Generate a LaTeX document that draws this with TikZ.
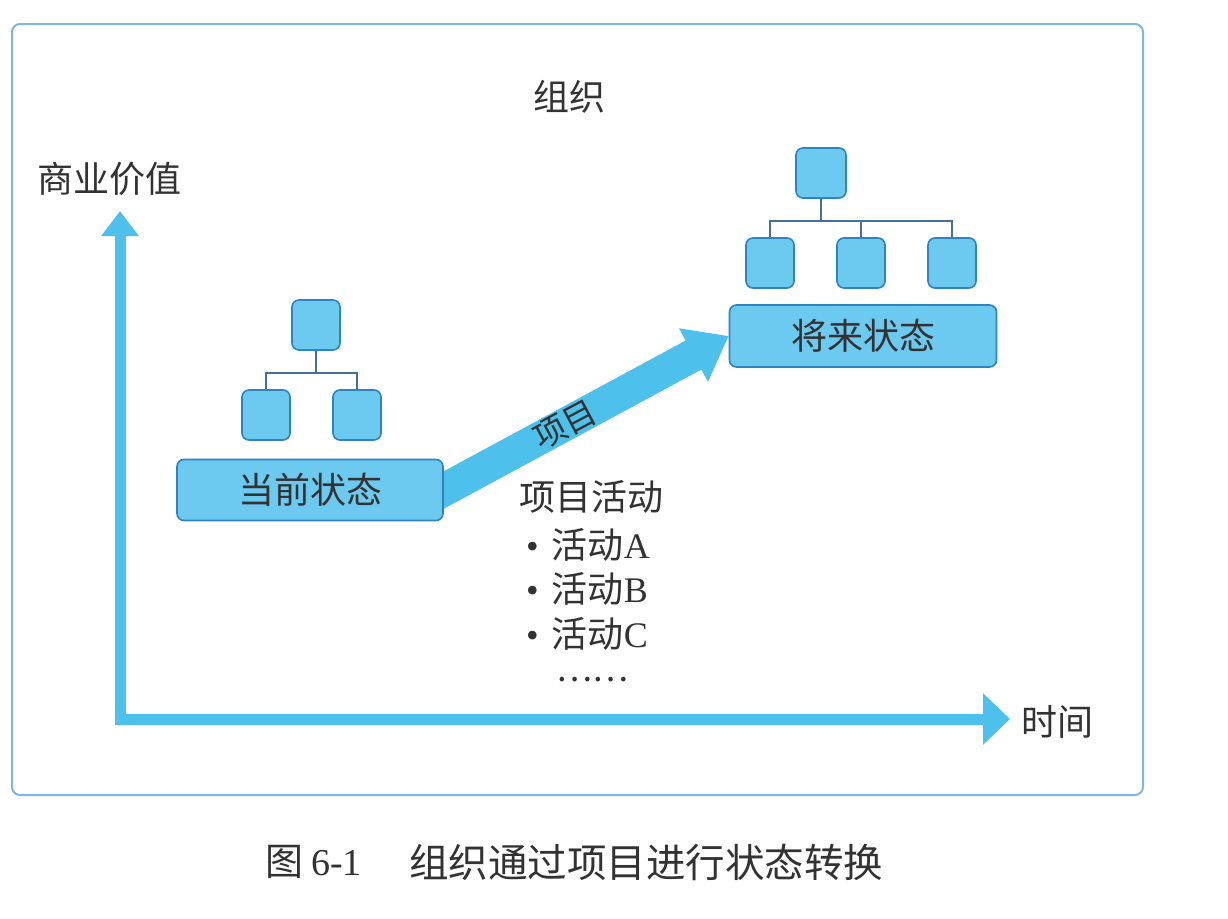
\documentclass[tikz,border=0pt]{standalone}
\usepackage{fontspec}
\setmainfont{Liberation Serif}
\newfontfamily\cjk{Noto Sans CJK SC}
\usetikzlibrary{arrows.meta}
\definecolor{boxfill}{RGB}{108,202,240}
\definecolor{boxline}{RGB}{45,132,192}
\definecolor{arrowc}{RGB}{78,192,236}
\definecolor{framec}{RGB}{125,182,226}
\definecolor{orgc}{RGB}{72,112,150}
\definecolor{txt}{RGB}{50,50,50}
\newcommand{\fsz}[1]{\fontsize{#1}{#1}\selectfont}
\pgfdeclarelayer{bg}
\pgfsetlayers{bg,main}
\tikzset{
  statebox/.style={draw=boxline, fill=boxfill, line width=1.6pt, rounded corners=7pt,
    inner sep=0pt, minimum width=266pt, minimum height=61pt, text=txt, font=\cjk\fsz{36}},
  orgbox/.style={draw=boxline, fill=boxfill, line width=1.6pt, rounded corners=7pt,
    inner sep=0pt, minimum width=48pt, minimum height=50pt},
  orgline/.style={draw=orgc, line width=1.8pt},
  axisline/.style={draw=arrowc, line width=11pt, line cap=rect},
  bigarrow/.style={draw=arrowc, line width=33pt, -{Triangle[width=58pt,length=40pt]}, shorten <=-25pt},
  lbl/.style={inner sep=0pt, text=txt, font=\cjk\fsz{36}},
}
\begin{document}
\begin{tikzpicture}[x=1pt,y=-1pt]
\useasboundingbox (0,0) rectangle (1228,918);

% state boxes
\node[statebox] (cur) at (310,490) {当前状态};
\node[statebox, minimum width=267pt, minimum height=62pt] (fut) at (863,336) {将来状态};

% left organisation chart
\node[orgbox] (c0) at (316,325) {};
\node[orgbox] (c1) at (266,415) {};
\node[orgbox] (c2) at (357,415) {};
\draw[orgline] (c0.south) -- ++(0,22) -| (c1.north);
\draw[orgline] (c0.south) -- ++(0,22) -| (c2.north);

% right organisation chart
\node[orgbox, minimum width=50pt] (f0) at (821,173) {};
\node[orgbox] (f1) at (770,263) {};
\node[orgbox] (f2) at (861,263) {};
\node[orgbox] (f3) at (952,263) {};
\draw[orgline] (f0.south) -- ++(0,22) -| (f1.north);
\draw[orgline] (f0.south) -- ++(0,22) -| (f2.north);
\draw[orgline] (f0.south) -- ++(0,22) -| (f3.north);

% axes
\coordinate (o) at (120,719);
\coordinate (ytip) at (120,211);
\coordinate (xtip) at (1010,719);

\begin{pgfonlayer}{bg}
  \fill[white] (0,0) rectangle (1228,918);
  \draw[framec, line width=2pt, rounded corners=8pt] (12,24) rectangle (1143,795);
  \draw[axisline, -{Triangle[width=36pt,length=25pt]}] (o) -- (ytip);
  \draw[axisline, -{Triangle[width=50pt,length=27pt]}] (o) -- (xtip);
  \draw[bigarrow] (cur.east) -- (fut.west);
\end{pgfonlayer}

% labels
\node[lbl] (org) at (569,97) {组织};
\node[lbl] (yl) at (109,179) {商业价值};
\node[lbl] (xl) at (1057,722) {时间};
\node[lbl, rotate=28, font=\cjk\fsz{33}] (proj) at (565,425) {项目};
\node[lbl] (act) at (591,497) {项目活动};
\node[lbl, anchor=west, font=\fsz{36}] (a1) at (526,545) {•\hspace{13pt}{\cjk 活动}A};
\node[lbl, anchor=west, font=\fsz{36}] (a2) at (526,589) {•\hspace{13pt}{\cjk 活动}B};
\node[lbl, anchor=west, font=\fsz{36}] (a3) at (526,634) {•\hspace{13pt}{\cjk 活动}C};
\node[lbl, font=\cjk\fsz{34}] (dots) at (592,680) {……};

% caption
\node[lbl, anchor=west, font=\fsz{38}] (cap1) at (265,862) {{\cjk 图}\hspace{8pt}6-1};
\node[lbl, anchor=west, font=\cjk\fsz{39.5}] (cap2) at (409,862) {组织通过项目进行状态转换};
\end{tikzpicture}
\end{document}
